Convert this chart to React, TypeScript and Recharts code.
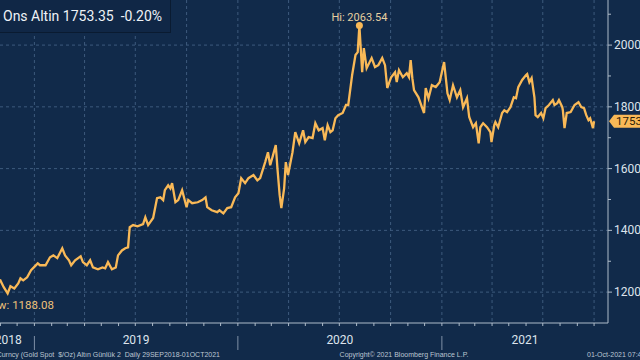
import React from 'react';
import { LineChart, Line, XAxis, YAxis, CartesianGrid, ReferenceDot } from 'recharts';

// ---- data ----
const DATES: string[] = [
  '2018-10-01','2018-10-05','2018-10-10','2018-10-11','2018-10-17','2018-10-23','2018-10-26',
  '2018-11-01','2018-11-07','2018-11-14','2018-11-19','2018-11-26','2018-12-03','2018-12-07',
  '2018-12-12','2018-12-19','2018-12-26','2018-12-31',
  '2019-01-07','2019-01-11','2019-01-21','2019-01-29','2019-02-04','2019-02-11','2019-02-20',
  '2019-02-25','2019-03-04','2019-03-08','2019-03-15','2019-03-25','2019-03-29','2019-04-05',
  '2019-04-11','2019-04-16','2019-04-25','2019-05-03','2019-05-08','2019-05-13','2019-05-20',
  '2019-05-27','2019-05-31','2019-06-07','2019-06-13','2019-06-18','2019-06-21','2019-06-27',
  '2019-07-05','2019-07-15','2019-07-19','2019-07-24','2019-08-02','2019-08-09','2019-08-15',
  '2019-08-20','2019-08-23','2019-08-29','2019-09-02','2019-09-05','2019-09-11','2019-09-16',
  '2019-09-23','2019-10-01','2019-10-04','2019-10-11','2019-10-21','2019-10-29','2019-11-04',
  '2019-11-07','2019-11-15','2019-11-25','2019-11-29','2019-12-06','2019-12-13','2019-12-20',
  '2019-12-27',
  '2020-01-02','2020-01-07','2020-01-14','2020-01-20','2020-01-29','2020-02-05','2020-02-10',
  '2020-02-19','2020-02-24','2020-02-28','2020-03-04','2020-03-09','2020-03-12','2020-03-16',
  '2020-03-19','2020-03-24','2020-03-27','2020-03-31','2020-04-08','2020-04-13','2020-04-20',
  '2020-04-27','2020-05-01','2020-05-07','2020-05-14','2020-05-19','2020-05-25','2020-06-01',
  '2020-06-05','2020-06-10','2020-06-15','2020-06-19','2020-06-24','2020-06-29','2020-07-07',
  '2020-07-13','2020-07-17','2020-07-24','2020-07-30','2020-08-03','2020-08-06','2020-08-11',
  '2020-08-14','2020-08-19','2020-08-28','2020-09-03','2020-09-09','2020-09-16','2020-09-21',
  '2020-09-25','2020-10-02','2020-10-09','2020-10-12','2020-10-16','2020-10-23','2020-10-30',
  '2020-11-03','2020-11-06','2020-11-09','2020-11-12','2020-11-20','2020-11-30','2020-12-03',
  '2020-12-08','2020-12-14','2020-12-21','2020-12-28',
  '2021-01-05','2021-01-11','2021-01-15','2021-01-21','2021-01-28','2021-02-03','2021-02-08',
  '2021-02-15','2021-02-19','2021-02-26','2021-03-03','2021-03-08','2021-03-11','2021-03-16',
  '2021-03-23','2021-03-29','2021-03-31','2021-04-05','2021-04-07','2021-04-12','2021-04-19',
  '2021-04-23','2021-04-28','2021-05-04','2021-05-10','2021-05-14','2021-05-18','2021-05-25',
  '2021-06-01','2021-06-03','2021-06-07','2021-06-11','2021-06-16','2021-06-18','2021-06-22',
  '2021-06-28','2021-07-02','2021-07-06','2021-07-12','2021-07-19','2021-07-22','2021-07-27',
  '2021-07-30','2021-08-05','2021-08-06','2021-08-09','2021-08-13','2021-08-20','2021-08-27',
  '2021-09-03','2021-09-08','2021-09-13','2021-09-17','2021-09-21','2021-09-24','2021-09-29',
  '2021-10-01',
];
const PRICES: number[] = [
  1188.08,1203,1194,1225,1223,1236,1235,
  1238,1216,1196,1219,1212,1228,1245,
  1238,1248,1271,1280,
  1293,1287,1287,1313,1319,1310,1342,
  1319,1303,1287,1303,1316,1297,1287,
  1303,1280,1274,1280,1277,1297,1274,
  1280,1319,1335,1342,1345,1410,1417,
  1413,1420,1442,1417,1440,1504,1507,
  1498,1530,1546,1536,1553,1491,1498,
  1530,1475,1498,1488,1491,1498,1507,
  1475,1465,1459,1465,1455,1472,1475,
  1507,
  1520,1569,1553,1569,1579,1562,1569,
  1621,1653,1611,1643,1676,1601,1514,
  1472,1536,1621,1579,1653,1718,1682,
  1724,1686,1702,1699,1747,1724,1731,
  1692,1741,1718,1724,1763,1773,1780,
  1806,1806,1903,1968,1977,2063.54,1912,
  1990,1925,1958,1929,1935,1958,1935,
  1861,1896,1912,1880,1919,1896,1909,
  1896,1951,1893,1854,1831,1780,1861,
  1828,1870,1864,1880,
  1945,1844,1822,1870,1831,1854,1799,
  1828,1767,1734,1747,1682,1734,1747,
  1734,1718,1686,1741,1751,1734,1780,
  1789,1783,1799,1831,1828,1864,1887,
  1903,1906,1880,1893,1831,1773,1767,
  1780,1763,1796,1806,1822,1806,1812,
  1822,1799,1789,1731,1780,1783,1806,
  1815,1799,1796,1773,1757,1763,1731,
  1753.35,
];

const Y_MAJOR = [1200, 1400, 1600, 1800, 2000];
const Y_MINOR = [1300, 1500, 1700, 1900, 2100];
const YEARS = [2018, 2019, 2020, 2021];
const X_START = '2018-09-29';
const X_END = '2021-10-26';
const HIGH = { date: '2020-08-06', value: 2063.54 };
const LOW = { date: '2018-10-01', value: 1188.08 };
const LAST = { date: '2021-10-01', value: 1753.35 };
const TITLE = 'Ons Altin 1753.35  -0.20%';
const FOOT_LEFT = 'XAU Curncy (Gold Spot  $/Oz) Altın Günlük 2  Daily 29SEP2018-01OCT2021';
const FOOT_MID = 'Copyright© 2021 Bloomberg Finance L.P.';
const FOOT_RIGHT = '01-Oct-2021 07:45';

// ---- styling ----
const BG = '#112a4a';
const LINE = '#f9b957';
const GRID = '#3d5a7c';
const AXIS = '#aebbc9';
const TXT = '#dde4ec';
const FONT = 'Roboto, "Liberation Sans", sans-serif';

const ts = (d: string) => Date.parse(d + 'T00:00:00Z');
const data = DATES.map((d, i) => ({ t: ts(d), v: PRICES[i] }));
const xMin = ts(X_START);
const xMax = ts(X_END);

const monthTicks: number[] = [];
for (let y = 2018; y <= 2021; y++) {
  for (let m = 0; m < 12; m++) {
    const t = Date.UTC(y, m, 1);
    if (t >= xMin && t <= xMax) monthTicks.push(t);
  }
}
const quarterTicks = monthTicks.filter((t) => new Date(t).getUTCMonth() % 3 === 0);
const yearLabel = new Map<number, string>();
YEARS.forEach((y) => {
  const s = Math.max(Date.UTC(y, 0, 1), xMin);
  const e = Math.min(Date.UTC(y + 1, 0, 1), xMax);
  yearLabel.set((s + e) / 2, String(y));
});
const xTicks = [...monthTicks, ...Array.from(yearLabel.keys())].sort((a, b) => a - b);
const yTicks = [...Y_MAJOR, ...Y_MINOR, LAST.value].sort((a, b) => a - b);

const XTick = (p: any) => {
  const { x, y, payload } = p;
  const v = payload.value as number;
  const lbl = yearLabel.get(v);
  if (lbl) {
    return (
      <text x={x} y={y + 21} textAnchor="middle" fill={TXT} fontSize={12} fontFamily={FONT}>
        {lbl}
      </text>
    );
  }
  const isJan = new Date(v).getUTCMonth() === 0;
  return (
    <g>
      <line x1={x} x2={x} y1={y} y2={y + 3} stroke={AXIS} strokeWidth={1} />
      {isJan && <line x1={x} x2={x} y1={y + 13} y2={y + 27} stroke="#7f90a6" strokeWidth={1} />}
    </g>
  );
};

const YTick = (p: any) => {
  const { x, y, payload } = p;
  const v = payload.value as number;
  if (v === LAST.value) {
    return (
      <g>
        <polygon
          points={`${x + 1},${y} ${x + 6},${y - 6.5} ${x + 34},${y - 6.5} ${x + 34},${y + 6.5} ${x + 6},${y + 6.5}`}
          fill={LINE}
        />
        <text x={x + 8} y={y + 4} fill="#2a1c08" fontSize={11.5} fontFamily={FONT}>
          {Math.floor(v)}
        </text>
      </g>
    );
  }
  const major = Y_MAJOR.includes(v);
  return (
    <g>
      <line x1={x} x2={x + (major ? 4 : 3)} y1={y} y2={y} stroke={AXIS} strokeWidth={1} />
      {major && (
        <text x={x + 6} y={y + 4} fill={TXT} fontSize={12} fontFamily={FONT}>
          {v}
        </text>
      )}
    </g>
  );
};

const HiLabel = (p: any) => {
  const vb = p.viewBox || {};
  const cx = vb.x + (vb.width || 0) / 2;
  const cy = vb.y + (vb.height || 0) / 2;
  return (
    <text x={cx} y={cy - 4} textAnchor="middle" fill="#e6cfa0" fontSize={11} fontFamily={FONT}>
      {`Hi: ${HIGH.value}`}
    </text>
  );
};

const LowLabel = (p: any) => {
  const vb = p.viewBox || {};
  const cx = vb.x + (vb.width || 0) / 2;
  const cy = vb.y + (vb.height || 0) / 2;
  return (
    <text x={cx + 2} y={cy + 13} textAnchor="start" fill="#efc27a" fontSize={11.5} fontFamily={FONT}>
      {`Low: ${LOW.value}`}
    </text>
  );
};

export default function App() {
  return (
    <div
      style={{
        position: 'fixed',
        left: 0,
        top: 0,
        width: 640,
        height: 360,
        overflow: 'hidden',
        background: BG,
        fontFamily: FONT,
      }}
    >
      <div style={{ position: 'absolute', left: -18, top: 0 }}>
        <LineChart width={658} height={360} data={data} margin={{ top: 0, right: 0, bottom: 0, left: 0 }}>
          <CartesianGrid
            stroke={GRID}
            strokeDasharray="3 3"
            horizontalValues={Y_MAJOR}
            verticalValues={quarterTicks}
          />
          <XAxis
            dataKey="t"
            type="number"
            domain={[xMin, xMax]}
            allowDataOverflow
            ticks={xTicks}
            interval={0}
            tickSize={0}
            tickMargin={0}
            tickLine={false}
            axisLine={{ stroke: AXIS }}
            tick={XTick}
            height={37}
          />
          <YAxis
            orientation="right"
            type="number"
            domain={[1100, 2146]}
            allowDataOverflow
            ticks={yTicks}
            interval={0}
            tickSize={0}
            tickMargin={0}
            tickLine={false}
            axisLine={{ stroke: AXIS }}
            tick={YTick}
            width={32}
          />
          <Line
            type="linear"
            dataKey="v"
            stroke={LINE}
            strokeWidth={2.3}
            dot={false}
            isAnimationActive={false}
          />
          <ReferenceDot x={ts(HIGH.date)} y={HIGH.value} r={3.5} fill={LINE} stroke="none" label={HiLabel} />
          <ReferenceDot x={ts(LOW.date)} y={LOW.value} r={0} fill="none" stroke="none" label={LowLabel} />
        </LineChart>
      </div>
      <div
        style={{
          position: 'absolute',
          left: -20,
          top: -1,
          width: 191,
          height: 34,
          boxSizing: 'border-box',
          border: '1px solid #0a1b31',
          background: '#102746',
          color: '#eef2f6',
          fontSize: 14,
          lineHeight: '32px',
          paddingLeft: 22,
          whiteSpace: 'pre',
        }}
      >
        {TITLE}
      </div>
      <div
        style={{
          position: 'absolute',
          right: 420,
          top: 351,
          fontSize: 7,
          color: '#bcc6d2',
          whiteSpace: 'pre',
          fontFamily: '"Liberation Sans", sans-serif',
        }}
      >
        {FOOT_LEFT}
      </div>
      <div
        style={{
          position: 'absolute',
          left: 404,
          top: 351,
          transform: 'translateX(-50%)',
          fontSize: 7,
          color: '#bcc6d2',
          whiteSpace: 'pre',
          fontFamily: '"Liberation Sans", sans-serif',
        }}
      >
        {FOOT_MID}
      </div>
      <div
        style={{
          position: 'absolute',
          left: 587,
          top: 351,
          fontSize: 7,
          color: '#bcc6d2',
          whiteSpace: 'pre',
          fontFamily: '"Liberation Sans", sans-serif',
        }}
      >
        {FOOT_RIGHT}
      </div>
    </div>
  );
}
